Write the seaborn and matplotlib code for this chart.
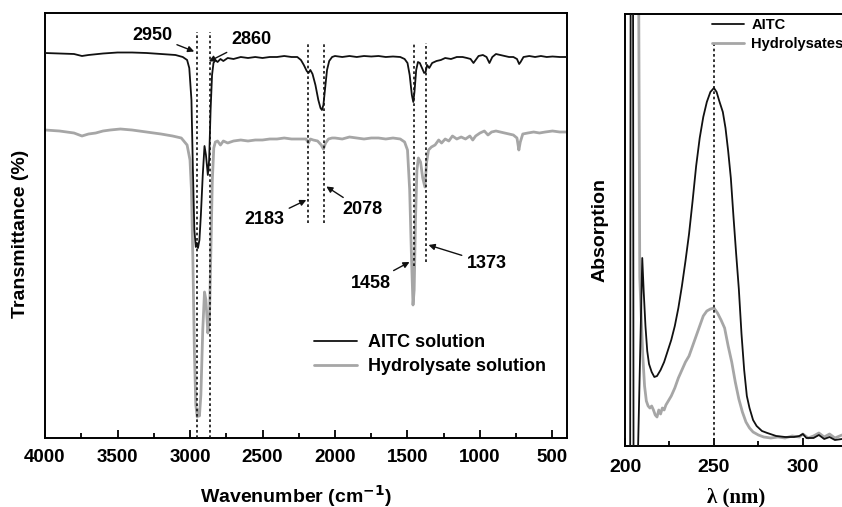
import pandas as pd
import matplotlib
matplotlib.use('Agg')
import matplotlib.pyplot as plt
from matplotlib.ticker import MultipleLocator
import seaborn as sns

# ---- FTIR data: (wavenumber cm-1, transmittance a.u.) ----
ir_aitc = [
    (4000, 77.0), (3900, 76.9), (3800, 76.8), (3745, 76.4), (3700, 76.6), (3600, 76.9),
    (3500, 77.1), (3400, 77.1), (3300, 77.0), (3200, 76.8), (3100, 76.6), (3050, 76.2),
    (3020, 75.6), (3005, 74.0), (2990, 67.6), (2980, 53.6), (2970, 41.6), (2960, 38.2),
    (2952, 39.0), (2945, 38.0), (2935, 39.6), (2925, 44.6), (2912, 52.6), (2900, 58.4),
    (2890, 56.6), (2877, 52.6), (2868, 55.6), (2858, 65.6), (2848, 72.6), (2838, 75.0),
    (2825, 75.6), (2810, 75.2), (2790, 75.8), (2770, 75.4), (2740, 76.0), (2700, 75.8),
    (2650, 76.2), (2600, 76.0), (2550, 76.2), (2500, 76.0), (2450, 76.2), (2400, 76.2),
    (2350, 76.4), (2300, 76.2), (2260, 76.2), (2235, 75.6), (2215, 74.6), (2195, 73.4),
    (2183, 73.0), (2170, 73.6), (2155, 72.8), (2135, 70.6), (2115, 67.6), (2100, 66.0),
    (2090, 65.6), (2080, 66.6), (2068, 70.0), (2055, 73.6), (2040, 75.4), (2020, 76.2),
    (2000, 76.4), (1950, 76.2), (1900, 76.4), (1850, 76.2), (1800, 76.4), (1750, 76.3),
    (1700, 76.4), (1650, 76.2), (1600, 76.3), (1550, 76.2), (1520, 75.8), (1500, 75.0),
    (1485, 72.6), (1470, 68.6), (1460, 67.2), (1452, 69.2), (1440, 73.6), (1428, 75.2),
    (1415, 75.0), (1400, 74.0), (1385, 73.0), (1375, 73.2), (1365, 74.6), (1350, 74.0),
    (1330, 75.0), (1300, 75.4), (1270, 75.6), (1240, 76.0), (1200, 75.8), (1160, 76.2),
    (1120, 76.2), (1090, 76.0), (1065, 75.8), (1045, 75.0), (1030, 75.6), (1010, 76.4),
    (980, 76.6), (955, 76.2), (935, 75.0), (915, 76.2), (890, 76.8), (860, 76.6),
    (830, 76.4), (800, 76.2), (770, 76.2), (745, 75.8), (730, 74.8), (720, 75.2),
    (700, 76.2), (660, 76.4), (620, 76.2), (580, 76.4), (540, 76.2), (500, 76.3),
    (450, 76.2), (400, 76.2),
]
ir_hydro = [
    (4000, 61.6), (3900, 61.4), (3800, 61.0), (3745, 60.4), (3700, 60.8), (3650, 61.0),
    (3600, 61.4), (3550, 61.6), (3480, 61.8), (3400, 61.6), (3300, 61.2), (3200, 60.8),
    (3120, 60.4), (3060, 60.0), (3020, 58.6), (3000, 55.6), (2990, 49.6), (2980, 35.6),
    (2970, 17.6), (2960, 6.6), (2950, 4.2), (2942, 5.6), (2935, 4.4), (2925, 8.6),
    (2912, 21.6), (2900, 29.2), (2890, 27.6), (2877, 21.0), (2866, 23.6), (2856, 37.6),
    (2846, 51.6), (2836, 58.0), (2825, 59.2), (2810, 59.4), (2790, 58.6), (2770, 59.4),
    (2740, 59.0), (2700, 59.4), (2650, 59.6), (2600, 59.4), (2550, 59.6), (2500, 59.6),
    (2450, 59.8), (2400, 59.8), (2350, 60.0), (2300, 59.8), (2250, 59.8), (2200, 59.8),
    (2183, 59.0), (2170, 59.8), (2150, 59.6), (2120, 59.4), (2095, 58.6), (2080, 57.8),
    (2065, 59.0), (2045, 59.8), (2020, 60.0), (2000, 60.0), (1950, 59.8), (1900, 60.2),
    (1850, 60.0), (1800, 59.8), (1750, 60.0), (1700, 60.0), (1650, 59.8), (1600, 60.0),
    (1550, 59.8), (1520, 59.2), (1500, 57.6), (1485, 49.6), (1472, 35.6), (1462, 26.6),
    (1454, 29.6), (1445, 43.6), (1435, 53.6), (1425, 56.0), (1410, 55.2), (1395, 52.0),
    (1380, 50.2), (1368, 55.2), (1355, 57.6), (1335, 58.2), (1310, 58.6), (1285, 59.6),
    (1265, 59.0), (1240, 59.8), (1215, 59.4), (1190, 60.4), (1160, 59.8), (1130, 60.2),
    (1100, 59.8), (1070, 60.4), (1050, 59.6), (1030, 60.4), (1000, 61.0), (970, 61.4),
    (945, 60.6), (920, 61.2), (890, 61.4), (860, 61.2), (830, 61.0), (800, 60.8),
    (770, 60.6), (745, 60.0), (732, 57.6), (722, 59.2), (705, 60.8), (670, 61.0),
    (630, 61.2), (590, 61.0), (550, 61.2), (500, 61.4), (450, 61.2), (400, 61.2),
]
ir_labels = ['AITC solution', 'Hydrolysate solution']

# marked bands and how far the dotted guide runs (transmittance a.u.)
ir_peaks = [2950, 2860, 2183, 2078, 1458, 1373]
ir_peak_top = [81.2, 81.2, 79.0, 79.0, 79.0, 79.0]
ir_peak_bottom = [0.0, 0.0, 43.0, 43.0, 34.4, 35.2]

# annotation text position and arrow tip (wavenumber, transmittance)
ir_note_text = [(3260, 80.6), (2578, 79.6), (2485, 43.6), (1810, 45.6), (1755, 31.0), (956, 35.0)]
ir_note_tip = [(2971, 77.3), (2870, 75.3), (2198, 47.6), (2060, 50.3), (1486, 35.2), (1355, 38.6)]

# ---- UV data: (wavelength nm, absorption a.u.) ----
uv_aitc = [
    (202.9, -0.3), (203.2, 5.0), (204.5, 5.0), (204.8, -0.3), (207.0, -0.3),
    (209.7, 1.88), (210.5, 1.55), (211.5, 1.20), (212.5, 0.95), (213.5, 0.82),
    (215.0, 0.74), (216.5, 0.69), (218.0, 0.70), (220.0, 0.76), (222.0, 0.84),
    (224.0, 0.95), (226.0, 1.06), (228.0, 1.20), (230.0, 1.38), (232.0, 1.60),
    (234.0, 1.85), (236.0, 2.12), (238.0, 2.45), (240.0, 2.80), (242.0, 3.08),
    (244.0, 3.29), (246.0, 3.44), (248.0, 3.54), (250.0, 3.58), (251.5, 3.54),
    (253.0, 3.45), (255.0, 3.34), (256.5, 3.18), (258.0, 2.95), (259.5, 2.68),
    (261.0, 2.29), (262.5, 1.92), (264.0, 1.57), (265.5, 1.12), (267.0, 0.76),
    (268.5, 0.50), (270.0, 0.38), (272.0, 0.26), (274.0, 0.20), (277.0, 0.15),
    (280.0, 0.13), (285.0, 0.10), (290.0, 0.09), (295.0, 0.09), (298.0, 0.10),
    (300.0, 0.12), (302.0, 0.08), (306.0, 0.08), (309.0, 0.11), (312.0, 0.07),
    (315.0, 0.09), (318.0, 0.06), (322.0, 0.07),
]
uv_hydro = [
    (207.6, 5.0), (208.3, 1.69), (209.0, 1.35), (210.0, 0.90), (211.0, 0.60),
    (212.0, 0.45), (213.0, 0.40), (214.0, 0.38), (215.0, 0.40), (216.0, 0.36),
    (217.0, 0.31), (218.0, 0.29), (219.0, 0.36), (220.0, 0.32), (221.0, 0.38),
    (222.0, 0.36), (223.0, 0.41), (224.0, 0.44), (226.0, 0.50), (228.0, 0.58),
    (230.0, 0.68), (232.0, 0.76), (234.0, 0.84), (236.0, 0.90), (238.0, 1.00),
    (240.0, 1.10), (242.0, 1.20), (244.0, 1.30), (246.0, 1.35), (248.0, 1.37),
    (250.0, 1.38), (252.0, 1.33), (254.0, 1.26), (256.0, 1.18), (258.0, 1.00),
    (260.0, 0.84), (262.0, 0.64), (264.0, 0.47), (266.0, 0.34), (268.0, 0.24),
    (270.0, 0.18), (272.0, 0.14), (275.0, 0.11), (278.0, 0.09), (282.0, 0.08),
    (286.0, 0.09), (290.0, 0.08), (294.0, 0.10), (298.0, 0.09), (300.0, 0.12),
    (303.0, 0.08), (306.0, 0.10), (309.0, 0.13), (312.0, 0.09), (315.0, 0.12),
    (318.0, 0.08), (322.0, 0.11),
]
uv_labels = ['AITC', 'Hydrolysates']
uv_peak = 250
uv_peak_top = 4.03

black = '#111111'
grey = '#a6a6a6'

sns.set_style('ticks')
plt.rcParams.update({
    'font.family': ['Liberation Sans', 'DejaVu Sans'],
    'font.weight': 'bold',
    'axes.labelweight': 'bold',
    'mathtext.default': 'bf',
    'text.color': 'black',
    'axes.labelcolor': 'black',
    'xtick.labelcolor': 'black',
    'axes.linewidth': 1.4,
    'xtick.direction': 'in',
    'xtick.major.size': 6,
    'xtick.minor.size': 3.5,
    'xtick.major.width': 1.3,
    'xtick.minor.width': 1.3,
    'xtick.color': 'black',
    'axes.edgecolor': 'black',
})

W, H = 842, 507
fig = plt.figure(figsize=(W / 100, H / 100), dpi=100)

# ---------------- FTIR panel ----------------
ax = fig.add_axes([45 / W, (H - 438) / H, (567 - 45) / W, (438 - 13) / H])
df_a = pd.DataFrame(ir_aitc, columns=['wavenumber', 'T'])
df_h = pd.DataFrame(ir_hydro, columns=['wavenumber', 'T'])
sns.lineplot(data=df_h, x='wavenumber', y='T', color=grey, lw=2.0, sort=False,
             estimator=None, ax=ax, label=ir_labels[1], zorder=2)
sns.lineplot(data=df_a, x='wavenumber', y='T', color=black, lw=1.3, sort=False,
             estimator=None, ax=ax, label=ir_labels[0], zorder=3)

for w, top, bot in zip(ir_peaks, ir_peak_top, ir_peak_bottom):
    ax.plot([w, w], [bot, top], color=black, lw=1.2, ls=(0, (1.6, 1.6)), zorder=4)

for p, txt, tip in zip(ir_peaks, ir_note_text, ir_note_tip):
    ax.annotate(str(p), xy=tip, xytext=txt, ha='center', va='center', fontsize=13,
                fontweight='bold',
                arrowprops=dict(arrowstyle='-|>', color=black, lw=1.0,
                                mutation_scale=9, shrinkA=1, shrinkB=0))

ax.set_xlim(4000, 400)
ax.set_ylim(0, 85)
ax.xaxis.set_major_locator(MultipleLocator(500))
ax.xaxis.set_minor_locator(MultipleLocator(250))
ax.set_yticks([])
ax.tick_params(axis='x', labelsize=13.5, pad=8)
ax.set_xlabel(r'Wavenumber (cm$^{-1}$)', fontsize=14)
ax.set_ylabel('Transmittance (%)', fontsize=14)
ax.xaxis.set_label_coords(0.48, -0.105)
ax.yaxis.set_label_coords(-0.03, 0.48)

handles, labels = ax.get_legend_handles_labels()
order = [labels.index(l) for l in ir_labels]
ax.legend([handles[i] for i in order], [labels[i] for i in order],
          loc='upper left', bbox_to_anchor=(0.515, 0.245), frameon=False, fontsize=13,
          handlelength=2.4, handletextpad=0.6, labelspacing=0.4,
          borderpad=0, borderaxespad=0)

# ---------------- UV panel ----------------
ax2 = fig.add_axes([625 / W, (H - 446) / H, (W - 625) / W, (446 - 14) / H])
df_ua = pd.DataFrame(uv_aitc, columns=['wavelength', 'A'])
df_uh = pd.DataFrame(uv_hydro, columns=['wavelength', 'A'])
sns.lineplot(data=df_uh, x='wavelength', y='A', color=grey, lw=2.0, sort=False,
             estimator=None, ax=ax2, label=uv_labels[1], zorder=2)
sns.lineplot(data=df_ua, x='wavelength', y='A', color=black, lw=1.3, sort=False,
             estimator=None, ax=ax2, label=uv_labels[0], zorder=3)
ax2.plot([uv_peak, uv_peak], [0, uv_peak_top], color=black, lw=1.2,
         ls=(0, (1.6, 1.6)), zorder=4)

ax2.set_xlim(200, 322)
ax2.set_ylim(0, 4.32)
ax2.spines['right'].set_visible(False)
ax2.xaxis.set_major_locator(MultipleLocator(50))
ax2.xaxis.set_minor_locator(MultipleLocator(25))
ax2.set_yticks([])
ax2.tick_params(axis='x', labelsize=14, pad=9)
ax2.set_xlabel('λ (nm)', fontsize=15, family='Liberation Serif', fontweight='bold')
ax2.set_ylabel('Absorption', fontsize=14)
ax2.xaxis.set_label_coords(0.51, -0.095)
ax2.yaxis.set_label_coords(-0.075, 0.5)

handles, labels = ax2.get_legend_handles_labels()
order = [labels.index(l) for l in uv_labels]
ax2.legend([handles[i] for i in order], [labels[i] for i in order],
           loc='upper left', bbox_to_anchor=(0.40, 0.99), frameon=False, fontsize=10.5,
           handlelength=2.2, handletextpad=0.5, labelspacing=0.3,
           borderpad=0, borderaxespad=0)

fig.savefig('out.png', dpi=100)
